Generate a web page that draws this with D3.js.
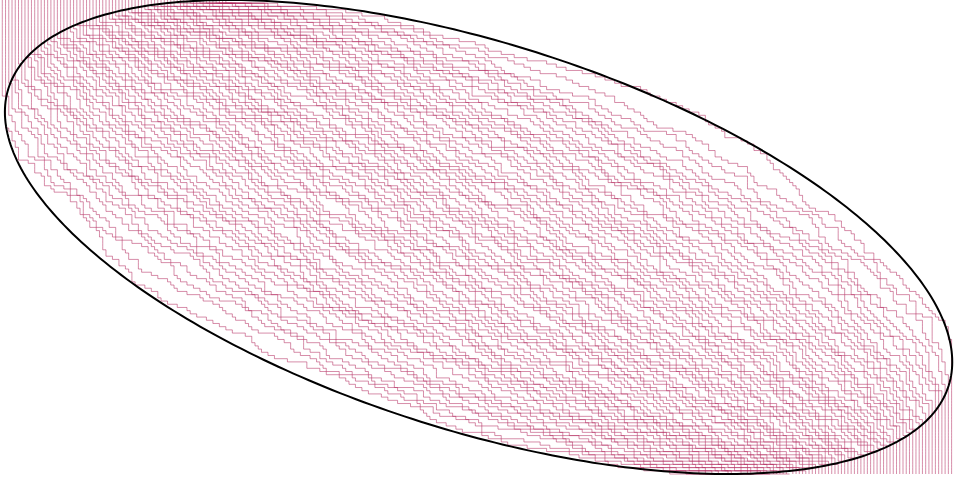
<!DOCTYPE html>
<html>
<head>
<meta charset="utf-8">
<script src="https://cdn.jsdelivr.net/npm/d3@7"></script>
<style>
  html, body { margin: 0; padding: 0; background: #fff; overflow: hidden; }
  svg { display: block; }
</style>
</head>
<body>
<svg id="chart" width="954" height="483"></svg>
<script>
// Particles start packed on columns 0..69 and finish packed on columns 224..293.
const startColumns = d3.range(0, 70);
const endColumns = d3.range(224, 294);
// Number of time frames at which positions are recorded.
const frameCount = 148;
// Arctic ellipse contact points with the frame: [column, time], time running 0 → 1 downwards.
const arcticTop = [69.5, 0];
const arcticRight = [293.2, 0.762];
const arcticBottom = [223.5, 1];
const arcticLeft = [0.8, 0.238];

const svg = d3.select("#chart");
const n = startColumns.length;
const m = endColumns[0] - startColumns[0];
const W = endColumns[n - 1] + 1;

const x = d3.scaleLinear().domain([0, W - 1]).range([2.3, 951.6]);
const y = d3.scaleLinear().domain([0, frameCount]).range([0, 474]);

// Non-colliding right-jump walks: jump k of particle i happens at time tau(i, k).
// The jump order is a standard Young tableau of the n × m rectangle
// (row r = particle n-1-r, column = jump index), drawn with the hook walk.
const rnd = d3.randomLcg(0.2718);
const N = n * m;
const lam = new Int32Array(n).fill(m);
const lamT = new Int32Array(m).fill(n);
const tab = new Int32Array(N);
for (let num = N; num >= 1; num--) {
  let r, c;
  do { r = (rnd() * n) | 0; c = (rnd() * m) | 0; } while (c >= lam[r]);
  for (;;) {
    const arm = lam[r] - c - 1, leg = lamT[c] - r - 1, h = arm + leg;
    if (h === 0) break;
    const j = 1 + ((rnd() * h) | 0);
    if (j <= arm) c += j; else r += j - arm;
  }
  tab[r * m + c] = num;
  lam[r]--; lamT[c]--;
}

// Positions recorded at each frame.
const paths = d3.range(n).map(i => {
  const r = n - 1 - i;
  const pos = new Int32Array(frameCount + 1);
  for (let k = 0; k < m; k++) {
    const f = Math.ceil(tab[r * m + k] / (N + 1) * frameCount);
    pos[f] += 1;
  }
  const pts = [];
  let p = startColumns[i];
  for (let f = 0; f <= frameCount; f++) {
    p += pos[f];
    pts.push([p, f]);
  }
  return pts;
});

const line = d3.line()
  .curve(d3.curveStepBefore)
  .x(d => x(d[0]))
  .y(d => y(d[1]));

svg.append("g")
  .attr("fill", "none")
  .attr("stroke", "#b01e55")
  .attr("stroke-opacity", 0.5)
  .attr("stroke-width", 1)
  .selectAll("path")
  .data(paths)
  .join("path")
  .attr("d", line);

// Arctic ellipse inscribed in the frame.
const ty = t => y(t * frameCount);
const xl = x(arcticLeft[0]), xr = x(arcticRight[0]);
const yt = ty(arcticTop[1]), yb = ty(arcticBottom[1]);
const cx = (xl + xr) / 2, cy = (yt + yb) / 2;
const A = (xr - xl) / 2, B = (yb - yt) / 2;
const sinTop = (cx - x(arcticTop[0])) / A;
const sinLeft = (cy - ty(arcticLeft[1])) / B;
const delta = Math.asin((sinTop + sinLeft) / 2);
const ellipsePts = d3.range(0, 360).map(k => {
  const s = k * Math.PI / 180;
  return [cx + A * Math.cos(s), cy + B * Math.sin(s + delta)];
});

svg.append("path")
  .datum(ellipsePts)
  .attr("fill", "none")
  .attr("stroke", "#000")
  .attr("stroke-width", 2)
  .attr("d", d3.line().curve(d3.curveLinearClosed));
</script>
</body>
</html>
